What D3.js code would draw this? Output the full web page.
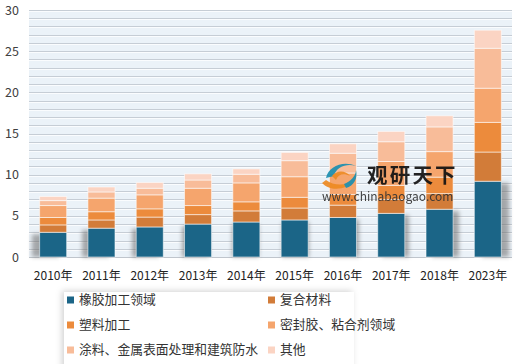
<!DOCTYPE html>
<html><head><meta charset="utf-8">
<script src="https://cdn.jsdelivr.net/npm/d3@7/dist/d3.min.js"></script>
<style>
html,body{margin:0;padding:0;background:#fff;}
text{font-family:"Noto Sans CJK SC","Microsoft YaHei",sans-serif;}
</style></head>
<body><svg id="c" width="520" height="364"></svg>
<script>
const years = ["2010年","2011年","2012年","2013年","2014年","2015年","2016年","2017年","2018年","2023年"];
const rubber    = [3.0, 3.5, 3.65, 4.0, 4.25, 4.5, 4.8, 5.3, 5.8, 9.2];
const composite = [0.9, 1.0, 1.2, 1.15, 1.35, 1.45, 1.5, 1.7, 1.9, 3.55];
const plastic   = [0.9, 1.0, 1.0, 1.1, 1.1, 1.3, 1.3, 1.7, 2.0, 3.6];
const sealant   = [1.45, 1.65, 1.7, 2.1, 2.3, 2.5, 2.6, 2.9, 3.1, 4.15];
const coating   = [0.6, 0.75, 0.8, 1.0, 1.05, 1.95, 2.4, 2.4, 3.0, 4.85];
const other     = [0.5, 0.6, 0.7, 0.75, 0.65, 1.0, 1.15, 1.25, 1.35, 2.2];
const seriesNames = ["橡胶加工领域","复合材料","塑料加工","密封胶、粘合剂领域","涂料、金属表面处理和建筑防水","其他"];
const yTicks = [0,5,10,15,20,25,30];

const seriesVals = [rubber, composite, plastic, sealant, coating, other];
const colors = ["#1b6587","#d27c39","#ec8b3c","#f5a56d","#f8bc99","#fbd4c3"];

const svg = d3.select("#c");
const defs = svg.append("defs");
const f1 = defs.append("filter").attr("id","blur").attr("x","-50%").attr("y","-50%").attr("width","200%").attr("height","200%");
f1.append("feGaussianBlur").attr("stdDeviation",2);
const f2 = defs.append("filter").attr("id","lshadow").attr("x","-10%").attr("y","-20%").attr("width","120%").attr("height","140%");
f2.append("feDropShadow").attr("dx",-2).attr("dy",-1).attr("stdDeviation",3).attr("flood-color","#000").attr("flood-opacity",0.18);

const L=29, R=512, T=10, B=257;
const x = d3.scaleBand().domain(years).range([L,R]).paddingInner(0.44).paddingOuter(0.22);
const y = d3.scaleLinear().domain([0,30]).range([B,T]);

// plot background
svg.append("rect").attr("x",L).attr("y",y(30)).attr("width",R-L).attr("height",y(0)-y(30)).attr("fill","#ebf2f8");
// gridlines every 1
const grid = d3.range(1,31);
svg.append("g").selectAll("line").data(grid).join("line")
  .attr("x1",L).attr("x2",R).attr("y1",d=>Math.round(y(d))+0.5).attr("y2",d=>Math.round(y(d))+0.5)
  .attr("stroke","#c6cdd5").attr("stroke-width",1);
svg.append("g").selectAll("line").data(grid).join("line")
  .attr("x1",L).attr("x2",R).attr("y1",d=>Math.round(y(d))+1.5).attr("y2",d=>Math.round(y(d))+1.5)
  .attr("stroke","#fafcfe").attr("stroke-width",1);
// baseline
svg.append("line").attr("x1",L).attr("x2",R).attr("y1",B+0.5).attr("y2",B+0.5).attr("stroke","#bfc5cc");

// y axis
const yAxis = d3.axisLeft(y).tickValues(yTicks).tickSize(0).tickPadding(0);
const ga = svg.append("g").attr("transform",`translate(${L-10},0)`).call(yAxis);
ga.select(".domain").remove();
ga.selectAll("text").attr("font-size",12.5).attr("fill","#404040").attr("font-family","'Liberation Sans','Noto Sans CJK SC',sans-serif");

// x axis labels
const xAxis = d3.axisBottom(x).tickSize(0).tickPadding(0);
const gx = svg.append("g").attr("transform",`translate(0,${B+14})`).call(xAxis);
gx.select(".domain").remove();
gx.selectAll("text").attr("font-size",12).attr("fill","#222");

// stacked data
const rows = years.map((yr,i)=>{const o={year:yr}; seriesNames.forEach((s,j)=>o[s]=seriesVals[j][i]); return o;});
const stack = d3.stack().keys(seriesNames)(rows);

// bar shadows (blue segment)
svg.append("g").selectAll("rect").data(rows).join("rect")
  .attr("x",(d,i)=>x(d.year)+(i-4.5)*1.7)
  .attr("y",d=>y(d[seriesNames[0]])+2)
  .attr("width",x.bandwidth())
  .attr("height",d=>y(0)-y(d[seriesNames[0]])-2)
  .attr("fill","#6b6b6b").attr("opacity",0.55).attr("filter","url(#blur)");

// bars
svg.append("g").selectAll("g").data(stack).join("g").attr("fill",(d,i)=>colors[i])
  .selectAll("rect").data(d=>d).join("rect")
  .attr("x",d=>x(d.data.year))
  .attr("y",d=>y(d[1]))
  .attr("width",x.bandwidth())
  .attr("height",d=>y(d[0])-y(d[1]))
  .attr("stroke","rgba(255,255,255,0.55)").attr("stroke-width",1);

// watermark
const wm = svg.append("g").attr("opacity",0.92);
wm.append("path").attr("d","M326,178 C328,166 344,160 356,166 C348,163 336,166 334,176 Z").attr("fill","#1c8fb0");
wm.append("path").attr("d","M322,183 C330,192 348,190 354,180 C346,186 334,186 326,180 Z").attr("fill","#ee8a22");
wm.append("path").attr("d","M332,176 C336,170 346,170 350,176 C344,173 338,174 336,180 Z").attr("fill","#ee8a22");
wm.append("path").attr("d","M344,184 C350,182 356,176 356,170 C358,178 354,186 346,188 Z").attr("fill","#1c8fb0");
wm.append("text").attr("x",367).attr("y",183).attr("font-size",20.5).attr("font-weight","bold").attr("fill","#111").attr("letter-spacing",2.2).text("观研天下");
wm.append("text").attr("x",322).attr("y",201).attr("font-size",12).attr("fill","#333").attr("font-family","'Liberation Sans',sans-serif").text("www.chinabaogao.com");

// legend
svg.append("rect").attr("x",64).attr("y",292).attr("width",290).attr("height",80).attr("fill","#fff").attr("filter","url(#lshadow)");
const lg = svg.append("g");
const items = lg.selectAll("g").data(seriesNames).join("g")
  .attr("transform",(d,i)=>`translate(${i%2===0?67:268},${300+Math.floor(i/2)*25})`);
items.append("rect").attr("x",0).attr("y",-3.5).attr("width",7).attr("height",7).attr("fill",(d,i)=>colors[i]);
items.append("text").attr("x",12).attr("y",0).attr("dy","0.35em").attr("font-size",12.8).attr("fill","#333").text(d=>d);
</script></body></html>
